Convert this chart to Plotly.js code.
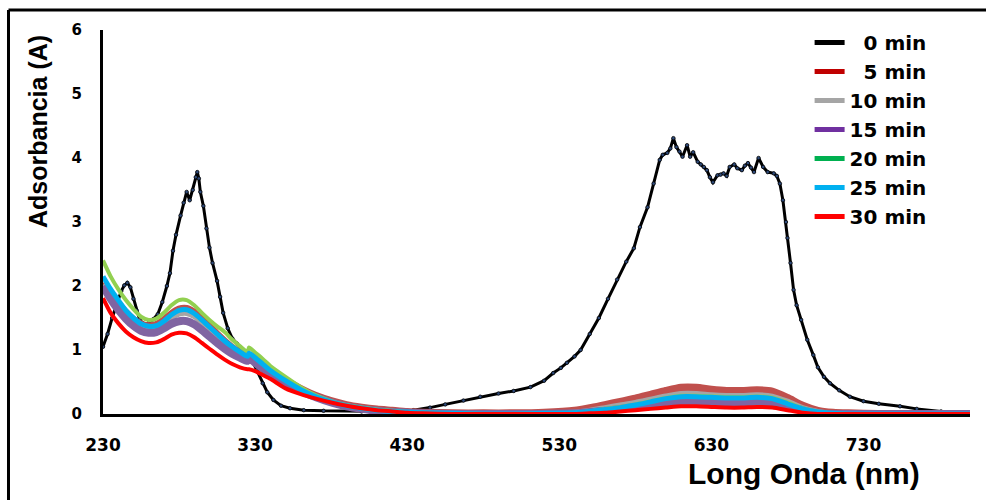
<!DOCTYPE html>
<html>
<head>
<meta charset="utf-8">
<script src="https://cdn.plot.ly/plotly-3.0.1.min.js"></script>
<style>
html,body{margin:0;padding:0;background:#fff;}
#chart{width:986px;height:500px;}
</style>
</head>
<body>
<div id="chart"></div>
<script>
// ---- data ----
const seriesNames = ["\u00a0\u00a00 min", "\u00a0\u00a05 min", "10 min", "15 min", "20 min", "25 min", "30 min"];
const xTickVals = [230, 330, 430, 530, 630, 730];

// 0 min spectrum
const wl0 = [230,233,236,239,242,244,246,248,250,252,254,256,258,260,263,266,269,272,274,276,278,281,283,285,287,289,291,292,293,294,296,298,300,302,305,307,309,312,315,318,321,325,328,331,335,338,342,347,353,362,375,400,420,434,445,455,467,478,490,500,511,520,526,531,535,540,544,550,556,562,568,574,579,583,588,592,596,598,601,603,605,607,609,611,614,616,618,621,623,625,627,629,631,634,636,638,640,642,645,647,650,652,654,656,658,661,664,667,671,673,675,677,679,680,682,684,686,689,693,697,700,704,708,714,721,730,740,754,765,781,800];
const abs0 = [1.05,1.25,1.50,1.70,1.92,2.01,2.05,1.98,1.80,1.62,1.48,1.42,1.40,1.42,1.48,1.56,1.75,2.00,2.20,2.55,2.80,3.10,3.30,3.47,3.34,3.50,3.70,3.78,3.68,3.47,3.25,2.90,2.60,2.36,2.08,1.83,1.58,1.34,1.18,1.10,1.02,0.95,0.84,0.69,0.48,0.34,0.22,0.13,0.09,0.06,0.05,0.04,0.04,0.06,0.10,0.15,0.21,0.27,0.32,0.36,0.42,0.52,0.64,0.72,0.80,0.90,1.00,1.25,1.50,1.80,2.10,2.38,2.59,2.92,3.23,3.60,3.97,4.05,4.08,4.15,4.31,4.17,4.10,4.02,4.20,4.02,4.09,3.94,3.90,3.86,3.81,3.70,3.62,3.73,3.74,3.76,3.72,3.86,3.90,3.84,3.81,3.88,3.92,3.85,3.78,4.00,3.86,3.78,3.76,3.72,3.60,3.34,3.00,2.75,2.36,1.94,1.70,1.47,1.16,0.92,0.73,0.58,0.48,0.37,0.27,0.20,0.16,0.12,0.08,0.04,0.01];

// common wavelength grid for the irradiated samples
const wl = [230,235,240,245,250,255,260,265,270,275,280,285,290,295,300,305,310,315,320,325,326,330,335,340,350,360,370,380,390,400,410,420,430,440,460,480,500,520,540,550,560,570,580,590,600,610,620,630,640,650,660,670,680,690,700,710,720,740,760,780,800];
const abs5  = [2.05,1.87,1.72,1.58,1.47,1.40,1.37,1.39,1.46,1.56,1.63,1.64,1.58,1.48,1.36,1.24,1.13,1.03,0.95,0.88,0.92,0.86,0.77,0.68,0.52,0.39,0.28,0.20,0.14,0.10,0.07,0.05,0.03,0.02,0.01,0.01,0.01,0.02,0.05,0.09,0.14,0.19,0.24,0.30,0.36,0.41,0.41,0.38,0.36,0.36,0.37,0.35,0.25,0.13,0.05,0.02,0.01,0,0,0,0];
const abs10 = [2.02,1.84,1.68,1.54,1.43,1.35,1.32,1.34,1.41,1.50,1.56,1.57,1.52,1.42,1.31,1.20,1.10,1.01,0.93,0.86,0.90,0.84,0.75,0.66,0.50,0.37,0.27,0.19,0.13,0.09,0.06,0.04,0.02,0.01,0.01,0,0,0.01,0.03,0.06,0.10,0.14,0.18,0.23,0.28,0.32,0.32,0.30,0.29,0.29,0.30,0.28,0.20,0.10,0.04,0.01,0,0,0,0,0];
const abs15 = [2.00,1.80,1.63,1.49,1.38,1.30,1.27,1.28,1.34,1.41,1.45,1.45,1.40,1.31,1.21,1.11,1.02,0.94,0.88,0.83,0.87,0.80,0.71,0.63,0.48,0.36,0.26,0.18,0.12,0.08,0.05,0.03,0.02,0.01,0,0,0,0,0.01,0.03,0.05,0.08,0.11,0.14,0.17,0.20,0.20,0.19,0.18,0.18,0.19,0.18,0.12,0.06,0.01,0,0,0,0,0,0];
const abs20 = [2.40,2.15,1.95,1.78,1.64,1.52,1.47,1.49,1.58,1.70,1.78,1.78,1.70,1.58,1.47,1.37,1.28,1.16,1.06,0.97,1.04,0.96,0.86,0.75,0.58,0.42,0.29,0.20,0.14,0.10,0.07,0.05,0.03,0.02,0.01,0,0,0.01,0.02,0.04,0.08,0.11,0.15,0.20,0.25,0.285,0.285,0.275,0.265,0.265,0.275,0.255,0.18,0.09,0.035,0.01,0,0,0,0,0];
const abs25 = [2.15,1.95,1.78,1.62,1.50,1.41,1.37,1.38,1.45,1.55,1.62,1.63,1.57,1.47,1.36,1.25,1.14,1.05,0.97,0.90,0.95,0.88,0.78,0.68,0.52,0.38,0.27,0.19,0.13,0.09,0.06,0.04,0.03,0.02,0.01,0,0,0.01,0.02,0.04,0.07,0.10,0.14,0.19,0.24,0.27,0.27,0.26,0.25,0.25,0.26,0.24,0.16,0.08,0.03,0.01,0,0,0,0,0];
const abs30 = [1.81,1.58,1.42,1.29,1.20,1.14,1.11,1.12,1.17,1.24,1.27,1.26,1.20,1.11,1.02,0.93,0.85,0.78,0.73,0.70,0.70,0.67,0.61,0.55,0.40,0.31,0.24,0.18,0.13,0.09,0.06,0.04,0.02,0.01,0,0,0,0,0,0.01,0.02,0.04,0.06,0.08,0.10,0.12,0.12,0.11,0.10,0.10,0.11,0.10,0.06,0.02,0,0,0,0,0,0,0];

const lineColors = ["#000000", "#C0504D", "#A5A5A5", "#8064A2", "#92D050", "#00B0F0", "#FF0000"];
const legendColors = ["#000000", "#C00000", "#A5A5A5", "#7030A0", "#00B050", "#00B0F0", "#FF0000"];
const lineWidths = [3, 8, 5, 8, 4, 5, 4];

// ---- traces ----
const data = [];
data.push({x: wl0, y: abs0, type: "scatter", mode: "lines+markers", showlegend: false,
  line: {color: lineColors[0], width: lineWidths[0]},
  marker: {size: 3.5, color: "#2E4A7A", line: {color: "#000", width: 0.8}}, hoverinfo: "skip"});
const ys = [abs5, abs10, abs15, abs20, abs25, abs30];
ys.forEach((yy, i) => {
  data.push({x: wl, y: yy, type: "scatter", mode: "lines", showlegend: false,
    line: {color: lineColors[i + 1], width: lineWidths[i + 1], shape: "spline", smoothing: 0.6},
    hoverinfo: "skip"});
});
// legend entries
seriesNames.forEach((nm, i) => {
  data.push({x: [null], y: [null], type: "scatter", mode: "lines", name: nm,
    line: {color: legendColors[i], width: 5}, showlegend: true});
});

const layout = {
  width: 986, height: 500,
  margin: {l: 103, r: 16, t: 30, b: 86},
  paper_bgcolor: "#ffffff", plot_bgcolor: "#ffffff",
  showlegend: true,
  legend: {x: 0.815, y: 1.018, xanchor: "left", yanchor: "top", bgcolor: "rgba(0,0,0,0)",
    font: {family: "DejaVu Sans", size: 20, color: "#000", weight: "bold"},
    itemwidth: 30, tracegroupgap: 0},
  xaxis: {range: [230, 800], tickvals: xTickVals, ticktext: xTickVals.map(String),
    showgrid: false, zeroline: false, showline: true, linecolor: "#000", linewidth: 3,
    ticks: "", ticklabelstandoff: 14,
    tickfont: {family: "DejaVu Sans", size: 17, color: "#000", weight: "bold"}},
  yaxis: {range: [0, 6], dtick: 1, showgrid: false, zeroline: false, showline: true,
    linecolor: "#000", linewidth: 3, ticks: "", ticklabelstandoff: 15,
    tickfont: {family: "DejaVu Sans", size: 15, color: "#000", weight: "bold"}},
  annotations: [
    {text: "Adsorbancia (A)", xref: "paper", yref: "paper", x: -0.075, y: 0.737,
      textangle: -90, showarrow: false, xanchor: "center", yanchor: "middle",
      font: {family: "Liberation Sans, Arial, sans-serif", size: 25, color: "#000", weight: "bold"}},
    {text: "Long Onda (nm)", xref: "paper", yref: "paper", x: 0.8085, y: -0.156,
      showarrow: false, xanchor: "center", yanchor: "middle",
      font: {family: "Liberation Sans, Arial, sans-serif", size: 30, color: "#000", weight: "bold"}}
  ],
  shapes: [
    {type: "line", xref: "paper", yref: "paper", x0: -0.109, x1: -0.109, y0: -0.3, y1: 1.052,
      line: {color: "#000", width: 3}},
    {type: "line", xref: "paper", yref: "paper", x0: -0.109, x1: 1.05, y0: 1.052, y1: 1.052,
      line: {color: "#000", width: 3}}
  ]
};

Plotly.newPlot("chart", data, layout, {displayModeBar: false, staticPlot: true});
</script>
</body>
</html>
